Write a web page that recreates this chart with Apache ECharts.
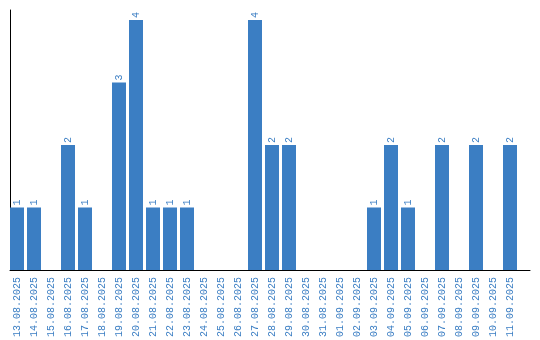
<!DOCTYPE html>
<html><head><meta charset="utf-8">
<script src="https://cdn.jsdelivr.net/npm/echarts@6/dist/echarts.min.js"></script>
<style>html,body{margin:0;padding:0;background:#fff}#c{width:540px;height:340px}</style>
</head><body><div id="c"></div>
<script>
const categories = ["13.08.2025","14.08.2025","15.08.2025","16.08.2025","17.08.2025","18.08.2025","19.08.2025","20.08.2025","21.08.2025","22.08.2025","23.08.2025","24.08.2025","25.08.2025","26.08.2025","27.08.2025","28.08.2025","29.08.2025","30.08.2025","31.08.2025","01.09.2025","02.09.2025","03.09.2025","04.09.2025","05.09.2025","06.09.2025","07.09.2025","08.09.2025","09.09.2025","10.09.2025","11.09.2025"];
const values = [1,1,0,2,1,0,3,4,1,1,1,0,0,0,4,2,2,0,0,0,0,1,2,1,0,2,0,2,0,2];
const color = '#3b7ec3';
const font = 'Liberation Mono';
const chart = echarts.init(document.getElementById('c'));
chart.setOption({
  animation: false,
  grid: [
    {left: 8.5, right: 21.5, top: 10, bottom: 70},
    {left: 10, right: 10, top: 10, bottom: 70}
  ],
  xAxis: [
    {type: 'category', gridIndex: 0, data: categories,
     axisLine: {show: false}, axisTick: {show: false},
     axisLabel: {rotate: 90, color: color, fontFamily: font, fontSize: 10, margin: 7, interval: 0}},
    {type: 'value', gridIndex: 1, min: 0, max: 1, show: true,
     axisLine: {show: true, lineStyle: {color: '#000', width: 1}}, axisTick: {show: false},
     axisLabel: {show: false}, splitLine: {show: false}}
  ],
  yAxis: [
    {type: 'value', gridIndex: 0, min: 0, max: 4.16, show: false, splitLine: {show: false}},
    {type: 'value', gridIndex: 1, min: 0, max: 1,
     axisLine: {show: true, lineStyle: {color: '#000', width: 1}}, axisTick: {show: false},
     axisLabel: {show: false}, splitLine: {show: false}}
  ],
  series: [{
    type: 'bar', xAxisIndex: 0, yAxisIndex: 0, data: values, barWidth: 14,
    itemStyle: {color: color},
    label: {show: true, position: 'top', rotate: 90, align: 'left', verticalAlign: 'middle',
      distance: 2, color: color, fontFamily: font, fontSize: 10,
      formatter: p => p.value ? String(p.value) : ''}
  }]
});
</script></body></html>
